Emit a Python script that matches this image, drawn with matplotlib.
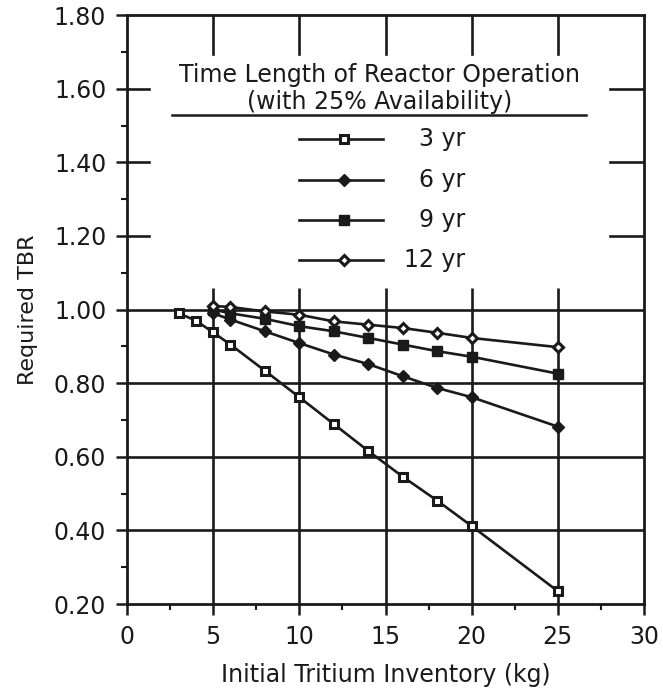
import matplotlib
matplotlib.use("Agg")
import matplotlib.pyplot as plt
from matplotlib.lines import Line2D
from matplotlib.ticker import MultipleLocator

plt.rcParams['font.family'] = ['DejaVu Sans']

# initial tritium inventory (kg) and required TBR
x_3yr = [3, 4, 5, 6, 8, 10, 12, 14, 16, 18, 20, 25]
tbr_3yr = [0.99, 0.97, 0.938, 0.905, 0.834, 0.762, 0.689, 0.616, 0.546, 0.481, 0.412, 0.235]

x_long = [5, 6, 8, 10, 12, 14, 16, 18, 20, 25]
tbr_6yr = [0.99, 0.973, 0.941, 0.909, 0.878, 0.852, 0.819, 0.787, 0.762, 0.682]
tbr_9yr = [1.0, 0.99, 0.975, 0.955, 0.941, 0.923, 0.905, 0.887, 0.872, 0.826]
tbr_12yr = [1.01, 1.007, 0.995, 0.986, 0.968, 0.959, 0.950, 0.937, 0.923, 0.898]

labels = ['3 yr', '6 yr', '9 yr', '12 yr']
x_ticks = [0, 5, 10, 15, 20, 25, 30]
y_ticks = [0.2, 0.4, 0.6, 0.8, 1.0, 1.2, 1.4, 1.6, 1.8]

ink = '#1a1a1a'
styles = [
    dict(marker='s', ms=6, mfc='white', mec=ink, mew=2.2),
    dict(marker='D', ms=6, mfc=ink, mec=ink, mew=1),
    dict(marker='s', ms=7.5, mfc=ink, mec=ink, mew=1),
    dict(marker='D', ms=5, mfc='white', mec=ink, mew=2.2),
]

fig = plt.figure(figsize=(6.63, 6.88), dpi=100)
ax = fig.add_axes([0.1916, 0.122, 0.7797, 0.856])
ax.set_xlim(0, 30)
ax.set_ylim(0.2, 1.8)

# grid: full lines below 1.0, short stubs above
for yv in [0.4, 0.6, 0.8, 1.0]:
    ax.axhline(yv, color=ink, lw=1.9, zorder=1)
ax.vlines([5, 10, 15, 20, 25], 0.2, 1.06, color=ink, lw=1.9, zorder=1)

series = [(x_3yr, tbr_3yr), (x_long, tbr_6yr), (x_long, tbr_9yr), (x_long, tbr_12yr)]
for (xs, ys), st in zip(series, styles):
    ax.plot(xs, ys, color=ink, lw=1.9, zorder=3, **st)

ax.set_xticks(x_ticks)
ax.set_yticks(y_ticks)
ax.set_yticklabels(['%.2f' % v for v in y_ticks])
ax.xaxis.set_minor_locator(MultipleLocator(2.5))
ax.yaxis.set_minor_locator(MultipleLocator(0.1))
ax.tick_params(axis='both', which='major', direction='out', length=8, width=1.8,
               color=ink, labelsize=17, labelcolor=ink, pad=7)
ax.tick_params(axis='both', which='minor', direction='out', length=4, width=1.5, color=ink)

# long inward ticks on top, left and right
for xv in x_ticks[1:-1]:
    ax.plot([xv, xv], [1.8, 1.694], color=ink, lw=1.9, zorder=2)
for yv in [1.2, 1.4, 1.6]:
    ax.plot([28, 30], [yv, yv], color=ink, lw=1.9, zorder=2)
    ax.plot([0, 1.3], [yv, yv], color=ink, lw=1.9, zorder=2)

for s in ax.spines.values():
    s.set_linewidth(2)
    s.set_color(ink)

ax.set_xlabel('Initial Tritium Inventory (kg)', fontsize=17, color=ink, labelpad=10)
ax.set_ylabel('Required TBR', fontsize=16, color=ink, labelpad=11)

# legend block drawn in axes fraction
ax.text(0.489, 0.898, 'Time Length of Reactor Operation', transform=ax.transAxes,
        ha='center', va='center', fontsize=17, color=ink)
ax.text(0.489, 0.853, '(with 25% Availability)', transform=ax.transAxes,
        ha='center', va='center', fontsize=17, color=ink)
ax.add_line(Line2D([0.087, 0.888], [0.831, 0.831], transform=ax.transAxes, color=ink, lw=1.8))
for i, (lab, st) in enumerate(zip(labels, styles)):
    yy = 0.789 - i * 0.0685
    ax.add_line(Line2D([0.333, 0.495], [yy, yy], transform=ax.transAxes, color=ink, lw=1.9))
    ax.add_line(Line2D([0.42], [yy], transform=ax.transAxes, color=ink, lw=0, **st))
    ax.text(0.654, yy, lab, transform=ax.transAxes, ha='right', va='center',
            fontsize=17, color=ink)

fig.savefig('out.png', dpi=100)
